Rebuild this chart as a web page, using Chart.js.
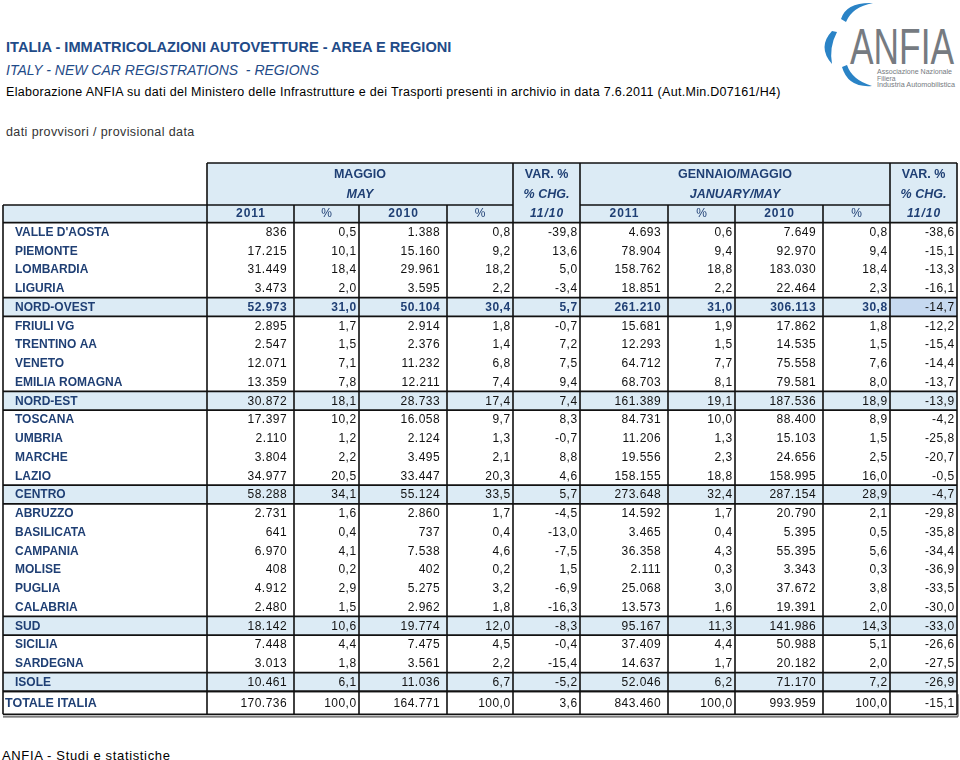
<!DOCTYPE html>
<html>
<head>
<meta charset="utf-8">
<script src="https://cdn.jsdelivr.net/npm/chart.js@4.4.1/dist/chart.umd.min.js"></script>
<style>
  body { margin: 0; background: #fff; }
  #page { position: relative; width: 960px; height: 760px; overflow: hidden; font-family: "Liberation Sans", Arial, sans-serif; }
  .txt { position: absolute; white-space: nowrap; line-height: 1; }
  #t1 { left: 6px; top: 39.7px; font-size: 14.6px; font-weight: bold; color: #1f4b88; }
  #t2 { left: 6px; top: 63px; font-size: 14px; font-style: italic; color: #1f4b88; }
  #t3 { left: 6px; top: 86.4px; font-size: 12.5px; color: #000; letter-spacing: 0.3px; }
  #t4 { left: 6px; top: 126.4px; font-size: 12.5px; color: #333; letter-spacing: 0.4px; }
  #foot { left: 2px; top: 749px; font-size: 13px; color: #000; letter-spacing: 0.65px; }
  #logo { position: absolute; left: 815px; top: 0; }
  #table { position: absolute; left: 0; top: 0; }
</style>
</head>
<body>
<div id="page">
  <div class="txt" id="t1">ITALIA - IMMATRICOLAZIONI AUTOVETTURE - AREA E REGIONI</div>
  <div class="txt" id="t2">ITALY - NEW CAR REGISTRATIONS&nbsp; - REGIONS</div>
  <div class="txt" id="t3">Elaborazione ANFIA su dati del Ministero delle Infrastrutture e dei Trasporti presenti in archivio in data 7.6.2011 (Aut.Min.D07161/H4)</div>
  <div class="txt" id="t4">dati provvisori / provisional data</div>
  <div class="txt" id="foot">ANFIA - Studi e statistiche</div>
  <svg id="logo" width="145" height="100" viewBox="0 0 145 100">
    <g fill="#2a83c6">
      <path d="M26 19 Q31 2 58 3 Q37 7 31 22 Z"/>
      <path d="M17 31 Q2 47 17 64 Q14 47 22 32 Z"/>
      <path d="M27 67 Q33 88 57 86 Q37 80 32 65 Z"/>
    </g>
    <text x="35" y="64" font-family="Liberation Sans, Arial, sans-serif" font-size="50" fill="#767b81" textLength="104" lengthAdjust="spacingAndGlyphs">ANFIA</text>
    <g font-family="Liberation Sans, Arial, sans-serif" font-size="6.8" fill="#767b81">
      <text x="62" y="74" textLength="75" lengthAdjust="spacingAndGlyphs">Associazione Nazionale</text>
      <text x="62" y="80.5">Filiera</text>
      <text x="62" y="87" textLength="78" lengthAdjust="spacingAndGlyphs">Industria Automobilistica</text>
    </g>
  </svg>
  <canvas id="table" width="960" height="760"></canvas>
</div>
<script>
// row labels
const regions = ["VALLE D'AOSTA", 'PIEMONTE', 'LOMBARDIA', 'LIGURIA', 'NORD-OVEST',
  'FRIULI VG', 'TRENTINO AA', 'VENETO', 'EMILIA ROMAGNA', 'NORD-EST',
  'TOSCANA', 'UMBRIA', 'MARCHE', 'LAZIO', 'CENTRO',
  'ABRUZZO', 'BASILICATA', 'CAMPANIA', 'MOLISE', 'PUGLIA', 'CALABRIA', 'SUD',
  'SICILIA', 'SARDEGNA', 'ISOLE', 'TOTALE ITALIA'];
const subtotals = ['NORD-OVEST', 'NORD-EST', 'CENTRO', 'SUD', 'ISOLE'];

// MAGGIO / MAY
const may2011 = [836, 17215, 31449, 3473, 52973, 2895, 2547, 12071, 13359, 30872, 17397, 2110, 3804, 34977, 58288, 2731, 641, 6970, 408, 4912, 2480, 18142, 7448, 3013, 10461, 170736];
const mayShare2011 = [0.5, 10.1, 18.4, 2.0, 31.0, 1.7, 1.5, 7.1, 7.8, 18.1, 10.2, 1.2, 2.2, 20.5, 34.1, 1.6, 0.4, 4.1, 0.2, 2.9, 1.5, 10.6, 4.4, 1.8, 6.1, 100.0];
const may2010 = [1388, 15160, 29961, 3595, 50104, 2914, 2376, 11232, 12211, 28733, 16058, 2124, 3495, 33447, 55124, 2860, 737, 7538, 402, 5275, 2962, 19774, 7475, 3561, 11036, 164771];
const mayShare2010 = [0.8, 9.2, 18.2, 2.2, 30.4, 1.8, 1.4, 6.8, 7.4, 17.4, 9.7, 1.3, 2.1, 20.3, 33.5, 1.7, 0.4, 4.6, 0.2, 3.2, 1.8, 12.0, 4.5, 2.2, 6.7, 100.0];
const mayChg = [-39.8, 13.6, 5.0, -3.4, 5.7, -0.7, 7.2, 7.5, 9.4, 7.4, 8.3, -0.7, 8.8, 4.6, 5.7, -4.5, -13.0, -7.5, 1.5, -6.9, -16.3, -8.3, -0.4, -15.4, -5.2, 3.6];

// GENNAIO/MAGGIO / JANUARY/MAY
const ytd2011 = [4693, 78904, 158762, 18851, 261210, 15681, 12293, 64712, 68703, 161389, 84731, 11206, 19556, 158155, 273648, 14592, 3465, 36358, 2111, 25068, 13573, 95167, 37409, 14637, 52046, 843460];
const ytdShare2011 = [0.6, 9.4, 18.8, 2.2, 31.0, 1.9, 1.5, 7.7, 8.1, 19.1, 10.0, 1.3, 2.3, 18.8, 32.4, 1.7, 0.4, 4.3, 0.3, 3.0, 1.6, 11.3, 4.4, 1.7, 6.2, 100.0];
const ytd2010 = [7649, 92970, 183030, 22464, 306113, 17862, 14535, 75558, 79581, 187536, 88400, 15103, 24656, 158995, 287154, 20790, 5395, 55395, 3343, 37672, 19391, 141986, 50988, 20182, 71170, 993959];
const ytdShare2010 = [0.8, 9.4, 18.4, 2.3, 30.8, 1.8, 1.5, 7.6, 8.0, 18.9, 8.9, 1.5, 2.5, 16.0, 28.9, 2.1, 0.5, 5.6, 0.3, 3.8, 2.0, 14.3, 5.1, 2.0, 7.2, 100.0];
const ytdChg = [-38.6, -15.1, -13.3, -16.1, -14.7, -12.2, -15.4, -14.4, -13.7, -13.9, -4.2, -25.8, -20.7, -0.5, -4.7, -29.8, -35.8, -34.4, -36.9, -33.5, -30.0, -33.0, -26.6, -27.5, -26.9, -15.1];

// header texts
const groupTitles = ['MAGGIO', 'GENNAIO/MAGGIO'];
const groupSubtitles = ['MAY', 'JANUARY/MAY'];
const varTitles = ['VAR. %', '% CHG.', '11/10'];
const colHeads = ['2011', '%', '2010', '%', '11/10', '2011', '%', '2010', '%', '11/10'];

const columns = [may2011, mayShare2011, may2010, mayShare2010, mayChg,
  ytd2011, ytdShare2011, ytd2010, ytdShare2010, ytdChg];
const isInt = [true, false, true, false, false, true, false, true, false, false];

// layout (table units = px, x scale 0..954)
const colEdges = [0, 204, 291, 356, 444, 510, 577, 665, 732, 820, 887, 954];
const HEAD_TOP = 163;
const HEAD_MID = 205;
const NAVY = '#1f3f74';
const HEAD_BG = '#dcebf5';
const SEL_BG = '#c6d9f0';
const FONT = '"Liberation Sans", Arial, sans-serif';

function fmt(v, int) {
    if (int) return String(v).replace(/\B(?=(\d{3})+(?!\d))/g, '.');
    return v.toFixed(1).replace('.', ',');
}

const tablePlugin = {
    id: 'table',
    beforeDatasetsDraw(chart) {
        const { ctx, scales: { x, y } } = chart;
        const X = v => x.getPixelForValue(v);
        const pitch = (y.bottom - y.top) / regions.length;
        const top = i => y.getPixelForValue(i) - pitch / 2;
        const last = regions.length - 1;
        const bottom = top(last) + 23;
        const L = X(0), R = X(954);

        ctx.save();
        // fills
        ctx.fillStyle = HEAD_BG;
        ctx.fillRect(X(colEdges[1]), HEAD_TOP, R - X(colEdges[1]), y.top - HEAD_TOP);
        ctx.fillRect(L, HEAD_MID, X(colEdges[1]) - L, y.top - HEAD_MID);
        regions.forEach((r, i) => {
            if (subtotals.includes(r)) ctx.fillRect(L, top(i), R - L, pitch);
        });
        // selected cell
        const no = regions.indexOf('NORD-OVEST');
        ctx.fillStyle = SEL_BG;
        ctx.fillRect(X(colEdges[10]), top(no), X(colEdges[11]) - X(colEdges[10]), pitch);

        // lines
        ctx.strokeStyle = '#111';
        ctx.lineWidth = 1.6;
        const h = (yy, a, b) => { ctx.beginPath(); ctx.moveTo(a, yy); ctx.lineTo(b, yy); ctx.stroke(); };
        const v = (xx, a, b) => { ctx.beginPath(); ctx.moveTo(xx, a); ctx.lineTo(xx, b); ctx.stroke(); };
        h(HEAD_TOP, X(colEdges[1]), R);
        h(HEAD_MID, L, X(colEdges[5]));
        h(HEAD_MID, X(colEdges[6]), X(colEdges[10]));
        h(y.top, L, R);
        regions.forEach((r, i) => {
            if (subtotals.includes(r)) { h(top(i), L, R); h(top(i) + pitch, L, R); }
        });
        h(top(last), L, R);
        h(bottom, L, R);
        ctx.strokeStyle = '#555';
        ctx.lineWidth = 1.2;
        h(bottom + 2.5, L, R + 1);
        v(R + 1, bottom - 20, bottom + 2.5);
        ctx.strokeStyle = '#111';
        ctx.lineWidth = 1.6;
        colEdges.forEach((e, k) => {
            const full = [1, 5, 6, 10, 11].includes(k);
            v(X(e), full ? HEAD_TOP : HEAD_MID, bottom);
        });
        ctx.restore();
    },
    afterDatasetsDraw(chart) {
        const { ctx, scales: { x, y } } = chart;
        const X = v => x.getPixelForValue(v);
        const pitch = (y.bottom - y.top) / regions.length;
        const last = regions.length - 1;
        const totalMid = y.getPixelForValue(last) - pitch / 2 + 11.5;
        const rowY = (i, py) => (i === last ? totalMid : py);

        ctx.save();
        ctx.textBaseline = 'middle';
        ctx.fillStyle = NAVY;

        // group headers
        ctx.textAlign = 'center';
        [[1, 5], [6, 10]].forEach(([a, b], g) => {
            const cx = (X(colEdges[a]) + X(colEdges[b])) / 2;
            ctx.font = `bold 12.5px ${FONT}`;
            ctx.fillText(groupTitles[g], cx, 174.5);
            ctx.font = `italic bold 12.5px ${FONT}`;
            ctx.fillText(groupSubtitles[g], cx, 194.5);
        });
        [5, 10].forEach(a => {
            const cx = (X(colEdges[a]) + X(colEdges[a + 1])) / 2;
            ctx.font = `bold 12.5px ${FONT}`;
            ctx.fillText(varTitles[0], cx, 174.5);
            ctx.font = `italic bold 12.5px ${FONT}`;
            ctx.fillText(varTitles[1], cx, 194.5);
        });
        ctx.letterSpacing = '1px';
        colHeads.forEach((t, c) => {
            const cx = (X(colEdges[c + 1]) + X(colEdges[c + 2])) / 2 + 0.5;
            if (t === '%') ctx.font = `12px ${FONT}`;
            else if (t === '11/10') ctx.font = `italic bold 12px ${FONT}`;
            else ctx.font = `bold 12px ${FONT}`;
            ctx.fillText(t, cx, 213.5);
        });
        ctx.letterSpacing = '0px';

        // row labels
        ctx.textAlign = 'left';
        regions.forEach((r, i) => {
            ctx.font = `bold ${i === last ? 12.5 : 12}px ${FONT}`;
            ctx.fillText(r, X(0) + (i === last ? 2 : 12), rowY(i, y.getPixelForValue(i)) + 0.5);
        });

        // values, one dataset per column
        ctx.textAlign = 'right';
        ctx.letterSpacing = '0.45px';
        chart.data.datasets.forEach((ds, c) => {
            const meta = chart.getDatasetMeta(c);
            meta.data.forEach((pt, i) => {
                const boldRow = regions[i] === 'NORD-OVEST' && c < 9;
                ctx.font = `${boldRow ? 'bold ' : ''}12px ${FONT}`;
                ctx.fillStyle = boldRow ? NAVY : '#111';
                const pad = isInt[c] ? 7 : 2.5;
                ctx.fillText(fmt(columns[c][i], isInt[c]), pt.x - pad, rowY(i, pt.y) + 0.5);
            });
        });
        ctx.restore();
    }
};

const rowsPitch = 18.75;
const areaTop = 222.6;

new Chart(document.getElementById('table'), {
    type: 'scatter',
    data: {
        datasets: columns.map((col, c) => ({
            label: colHeads[c],
            data: col.map((val, i) => ({ x: colEdges[c + 2], y: i })),
            pointRadius: 0
        }))
    },
    options: {
        responsive: false,
        animation: false,
        events: [],
        layout: {
            padding: { left: 3, right: 3, top: areaTop, bottom: 760 - areaTop - rowsPitch * regions.length }
        },
        scales: {
            x: { type: 'linear', min: 0, max: 954, display: false },
            y: { type: 'category', labels: regions, offset: true, display: false }
        },
        plugins: { legend: { display: false }, tooltip: { enabled: false } }
    },
    plugins: [tablePlugin]
});
</script>
</body>
</html>
